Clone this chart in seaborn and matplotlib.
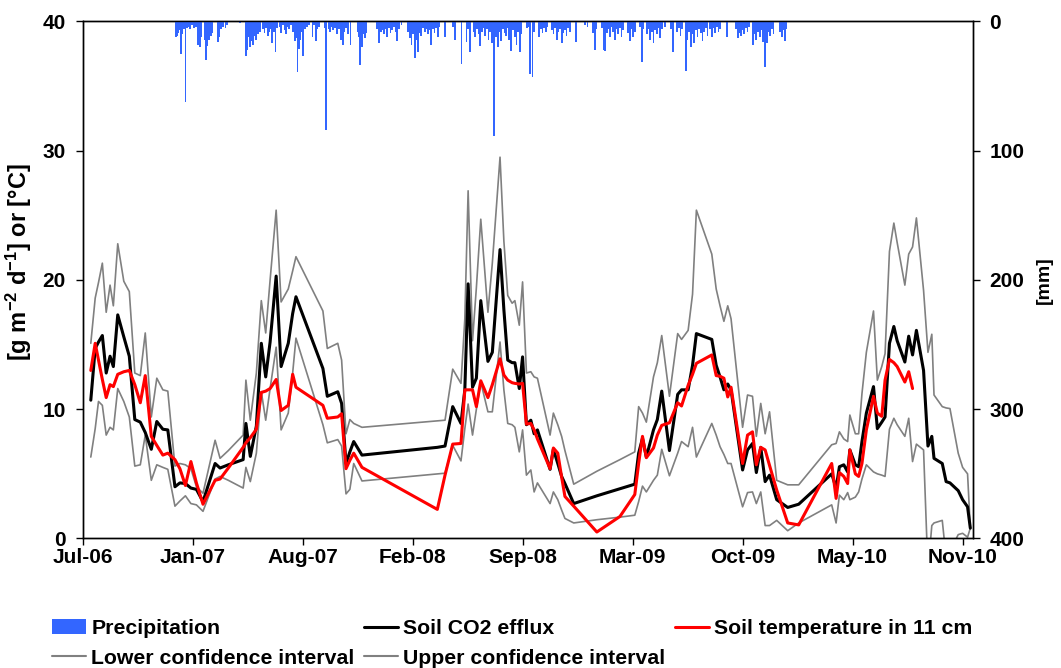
import numpy as np
import pandas as pd
import matplotlib
matplotlib.use("Agg")
import matplotlib.pyplot as plt
import matplotlib.dates as mdates
from matplotlib.patches import Patch
from matplotlib.lines import Line2D
import seaborn as sns

START = pd.Timestamp("2006-07-01")

# Soil campaign, sampling days counted from 1 July 2006
day = [15, 23, 29, 36, 43, 50, 56, 64, 75, 85,
       95, 105, 114, 125, 135, 146, 155, 168, 177, 187,
       197, 207, 219, 241, 250, 265, 292, 297, 305, 316,
       325, 333, 341, 352, 361, 374, 382, 388, 437, 445,
       464, 471, 479, 486, 493, 508, 645, 659, 673, 688,
       695, 701, 709, 716, 724, 737, 745, 759, 766, 773,
       781, 786, 794, 800, 807, 815, 821, 827, 850, 856,
       864, 871, 877, 893, 935, 977, 1004, 1011, 1018, 1025,
       1038, 1045, 1053, 1067, 1082, 1089, 1101, 1109, 1116, 1144,
       1152, 1159, 1166, 1173, 1179, 1200, 1209, 1218, 1225, 1233,
       1241, 1249, 1262, 1282, 1302, 1362, 1370, 1376, 1384, 1391,
       1395, 1405, 1411, 1417, 1425, 1438, 1445, 1453, 1459, 1467,
       1475, 1481, 1495, 1502, 1509, 1516, 1529, 1537, 1544, 1548,
       1563, 1570, 1577, 1592, 1600, 1609, 1614]

# Soil CO2 efflux [g m-2 d-1]
efflux = [10.7, 14.7, 15.2, 15.7, 12.8, 14.1, 13.3, 17.3, 15.6, 14.1,
          9.2, 9.0, 8.2, 6.9, 9.05, 8.45, 8.4, 4.0, 4.3, 4.25,
          3.9, 3.8, 2.85, 5.8, 5.45, 5.7, 6.1, 8.9, 6.35, 8.7,
          15.1, 12.5, 15.2, 20.3, 13.3, 15.1, 17.4, 18.7, 13.15, 11.0,
          11.35, 10.45, 5.8, 6.7, 7.5, 6.45, 7.05, 7.15, 10.2, 8.9,
          11.5, 19.7, 11.7, 12.4, 18.4, 13.7, 14.4, 22.35, 17.7, 13.8,
          13.6, 13.6, 11.6, 14.05, 8.8, 9.15, 8.1, 8.4, 5.35, 6.9,
          5.8, 4.8, 4.25, 2.7, 3.3, 3.85, 4.2, 6.6, 7.75, 6.3,
          8.4, 9.2, 11.4, 6.8, 11.15, 11.5, 11.5, 13.4, 15.85, 15.4,
          13.4, 12.5, 11.5, 11.95, 11.5, 5.3, 6.85, 7.35, 5.1, 7.05,
          4.4, 4.9, 3.0, 2.4, 2.65, 5.0, 3.9, 5.55, 5.7, 5.15,
          6.85, 5.7, 5.55, 7.5, 9.7, 11.75, 8.5, 9.0, 9.4, 15.1,
          16.4, 15.3, 13.65, 15.65, 14.2, 16.1, 13.0, 7.15, 7.9, 6.2,
          5.8, 4.4, 4.3, 3.7, 3.0, 2.45, 0.8]

# Soil temperature in 11 cm [deg C]
temp = [13.0, 15.1, 13.8, 12.3, 10.9, 11.9, 11.75, 12.7, 12.9, 13.0,
        11.9, 10.5, 12.6, 7.9, 7.2, 6.45, 6.6, 6.1, 5.4, 4.1,
        5.95, 4.3, 2.65, 4.5, 4.6, 5.45, 7.05, 7.4, 7.8, 8.45,
        11.3, 11.4, 11.6, 12.3, 9.9, 10.3, 12.7, 11.7, 10.3, 9.3,
        9.4, 9.65, 5.4, 6.05, 6.6, 5.5, 2.25, 4.9, 7.3, 7.35,
        11.5, 11.5, 11.5, 10.2, 12.2, 10.9, 11.9, 13.9, 12.65, 12.25,
        12.05, 12.0, 11.95, 12.0, 8.85, 8.9, 8.4, 7.7, 5.4, 7.0,
        6.6, 4.75, 3.25, 2.5, 0.5, 1.7, 3.4, 5.8, 7.9, 6.25,
        7.0, 8.0, 8.75, 8.95, 10.5, 10.25, 11.85, 12.7, 13.55, 14.2,
        12.6, 12.55, 12.4, 10.95, 11.7, 5.8, 8.0, 8.25, 5.7, 7.05,
        6.85, 5.65, 3.75, 1.2, 1.05, 5.8, 3.1, 5.1, 4.8, 4.25,
        6.85, 5.0, 4.8, 5.8, 8.4, 11.0, 9.7, 9.45, 12.25, 13.85,
        13.6, 13.3, 12.1, 12.9, 11.6, np.nan, np.nan, np.nan, np.nan, np.nan,
        np.nan, np.nan, np.nan, np.nan, np.nan, np.nan, np.nan]

# Confidence interval of the efflux
ci_upper = [15.1, 18.6, 19.8, 21.3, 17.5, 19.6, 18.0, 22.8, 19.9, 19.1,
            12.8, 12.6, 15.9, 9.4, 12.4, 11.5, 11.4, 5.6, 5.8, 5.7,
            5.4, 4.0, 3.5, 7.6, 6.2, 6.8, 8.0, 12.25, 9.15, 12.8,
            18.4, 15.9, 20.0, 25.4, 18.3, 19.3, 20.7, 21.8, 17.6, 14.7,
            15.1, 13.8, 8.1, 9.2, 8.9, 8.6, 9.1, 9.15, 13.1, 12.0,
            17.0, 26.9, 15.3, 19.4, 24.7, 17.5, 21.3, 29.5, 23.0, 18.8,
            18.2, 18.4, 16.5, 19.85, 12.8, 12.9, 12.5, 12.4, 8.0, 9.7,
            8.8, 7.9, 6.8, 4.2, 5.2, 6.1, 6.7, 10.2, 9.7, 9.0,
            12.5, 13.6, 15.7, 11.0, 15.85, 15.4, 16.1, 18.9, 25.4, 22.0,
            19.3, 18.0, 16.8, 18.0, 17.0, 8.6, 11.1, 11.0, 7.9, 10.45,
            8.1, 9.8, 4.5, 4.15, 4.15, 7.25, 7.35, 8.25, 7.7, 7.5,
            9.55, 8.1, 8.1, 11.2, 14.4, 17.6, 12.25, 13.3, 14.3, 22.2,
            24.4, 22.9, 19.6, 22.0, 22.55, 24.8, 19.2, 14.4, 15.8, 11.1,
            10.2, 10.1, 10.05, 6.6, 5.5, 5.0, 0.8]

ci_lower = [6.3, 8.5, 10.6, 10.3, 8.0, 8.6, 8.4, 11.6, 10.6, 9.4,
            5.6, 5.7, 8.0, 4.5, 5.7, 5.5, 5.35, 2.5, 2.9, 3.3,
            2.7, 2.6, 2.1, 4.6, 4.8, 4.5, 3.9, 5.5, 4.4, 6.6,
            11.35, 9.15, 11.6, 14.8, 8.4, 9.7, 12.8, 15.5, 8.8, 7.4,
            7.65, 7.15, 3.45, 3.8, 5.8, 4.45, 5.0, 5.05, 7.2, 6.0,
            8.5, 10.4, 8.0, 10.0, 12.1, 9.8, 9.8, 15.2, 11.5, 8.9,
            8.8, 8.6, 6.7, 8.4, 4.9, 5.3, 3.6, 4.3, 2.7, 3.6,
            3.0, 2.2, 1.55, 1.2, 1.45, 1.65, 1.8, 2.85, 4.05, 3.6,
            4.5, 4.9, 6.9, 4.85, 6.6, 7.5, 7.1, 8.6, 6.3, 8.9,
            8.0, 7.1, 6.5, 5.8, 5.8, 2.45, 3.55, 3.6, 2.7, 3.6,
            1.0, 1.0, 1.4, 0.6, 1.2, 2.6, 1.2, 3.35, 3.0, 3.55,
            3.0, 3.2, 3.6, 4.6, 5.7, 5.15, 5.0, 4.9, 4.8, 8.45,
            9.3, 8.8, 7.9, 9.3, 5.95, 7.3, 6.85, -2.5, 1.0, 1.2,
            1.4, -1.5, -1.0, 0.3, 0.4, 0.1, 0.8]

# Daily precipitation [mm]
rain_day = [170, 172, 174, 177, 179, 181, 184, 187, 190, 193, 196, 199, 203, 206,
            210, 213, 216, 222, 225, 227, 230, 233, 236, 246, 249, 252, 256, 260, 263,
            286, 297, 299, 302, 305, 307, 310, 313, 316, 319, 322,
            328, 331, 334, 337, 340, 343, 345, 348, 351, 353,
            358, 361, 364, 367, 370, 373, 376, 379, 382,
            386, 388, 391, 393, 395, 398, 401, 404, 408, 412, 418, 421, 424, 427, 430,
            440, 443, 447, 450, 453, 456, 459, 462, 465,
            468, 470, 473, 476, 479, 483, 487,
            500, 503, 505, 508, 511, 514, 516,
            536, 539, 542, 545, 548, 551, 554, 557, 560, 563, 566, 569, 572, 575, 580,
            592, 595, 598, 601, 604, 607, 610, 613, 616, 619, 622, 625, 628, 631, 634, 637, 640, 643, 646, 649,
            659, 674, 677, 689, 698, 701, 705,
            711, 714, 717, 720, 723, 726, 729, 732, 735, 738, 741, 744,
            748, 752, 755, 758, 761, 764, 767, 770, 773, 776, 779, 782, 786, 789, 792, 795, 798,
            808, 811, 814, 818, 821, 830, 833, 836, 839, 842, 845,
            853, 856, 859, 862, 865, 868, 871, 874, 877, 880, 883, 886, 897,
            914, 918, 928, 931, 934, 944, 947, 950, 953, 956, 959, 962, 965, 968, 971, 974, 977, 980, 983,
            992, 995, 998, 1001, 1004, 1013, 1017, 1020, 1026, 1029, 1032, 1035, 1038, 1041, 1044, 1047, 1050, 1053, 1059,
            1070, 1073, 1081, 1084, 1087, 1090, 1097, 1100, 1103, 1106, 1109, 1112, 1115, 1118, 1121, 1124, 1127, 1130, 1133, 1136,
            1141, 1144, 1147, 1150, 1153, 1156, 1159, 1172, 1188, 1191, 1194, 1197, 1200, 1203, 1206, 1209, 1212,
            1219, 1222, 1225, 1228, 1231, 1234, 1237, 1239, 1241, 1244, 1247, 1250, 1253, 1256, 1268, 1271, 1274, 1277, 1279]

rain_mm = [12, 11, 9, 7, 25, 10, 6, 62, 5, 4, 6, 3, 5, 4,
           18, 20, 12, 14, 30, 19, 14, 11, 9, 16, 12, 6, 4, 5, 3,
           1, 27, 22, 12, 20, 15, 18, 11, 14, 10, 8,
           6, 9, 5, 11, 8, 6, 17, 8, 24, 5,
           4, 9, 3, 7, 10, 4, 6, 3, 8,
           15, 13, 39, 21, 14, 8, 27, 6, 4, 3, 12, 3, 15, 6, 4,
           5, 84, 6, 8, 4, 7, 5, 10, 6,
           6, 14, 18, 8, 5, 10, 18,
           8, 12, 34, 20, 10, 13, 9,
           6, 17, 8, 7, 10, 6, 12, 5, 9, 7, 4, 8, 15, 6, 3,
           8, 13, 18, 10, 28, 14, 24, 9, 11, 5, 8, 6, 10, 7, 18, 6, 9, 5, 12, 4,
           12, 4, 14, 33, 16, 6, 24,
           8, 12, 6, 10, 19, 8, 5, 11, 6, 14, 8, 17,
           89, 12, 20, 8, 15, 6, 9, 11, 5, 14, 23, 7, 12, 18, 8, 24, 10,
           5, 4, 41, 43, 8, 12, 6, 9, 5, 8, 4,
           7, 10, 5, 14, 8, 6, 17, 9, 7, 11, 5, 8, 16,
           3, 4, 9, 22, 6, 5, 22, 23, 9, 6, 12, 4, 8, 14, 6, 10, 5, 12, 7,
           9, 15, 6, 12, 8, 4, 31, 6, 10, 6, 14, 8, 17, 7, 10, 5, 13, 6, 4,
           6, 24, 8, 5, 11, 6, 38, 14, 8, 20, 10, 17, 7, 12, 6, 9, 15, 8, 5, 11,
           6, 12, 5, 9, 4, 8, 6, 12, 6, 13, 9, 11, 7, 10, 5, 8, 4,
           18, 10, 14, 8, 12, 7, 16, 9, 35, 17, 8, 11, 6, 10, 8, 12, 7, 15, 6]

assert len(day) == len(efflux) == len(temp) == len(ci_upper) == len(ci_lower)
assert len(rain_day) == len(rain_mm)

sns.set_theme(style="ticks")
plt.rcParams.update({
    "font.family": ["Liberation Sans", "DejaVu Sans"],
    "font.weight": "bold",
    "axes.labelweight": "bold",
    "mathtext.fontset": "custom",
    "mathtext.rm": "Liberation Sans:bold",
    "mathtext.it": "Liberation Sans:bold",
    "mathtext.bf": "Liberation Sans:bold",
    "axes.edgecolor": "black",
    "axes.linewidth": 1.0,
    "xtick.color": "black",
    "ytick.color": "black",
    "text.color": "black",
    "axes.labelcolor": "black",
    "xtick.major.size": 5,
    "ytick.major.size": 5,
    "xtick.major.width": 1.0,
    "ytick.major.width": 1.0,
    "xtick.direction": "out",
    "ytick.direction": "out",
})

soil = pd.DataFrame({
    "date": START + pd.to_timedelta(day, unit="D"),
    "efflux": efflux,
    "temp": temp,
    "upper": ci_upper,
    "lower": ci_lower,
})
rain_dates = START + pd.to_timedelta(rain_day, unit="D")

C_RAIN = "#3366FF"
C_CI = "#808080"
C_TEMP = "#FF0000"

fig = plt.figure(figsize=(10.61, 6.68), dpi=100)
ax = fig.add_axes([0.0778, 0.1939, 0.8388, 0.7740])

common = dict(data=soil, x="date", ax=ax, estimator=None, sort=False, legend=False)
sns.lineplot(y="lower", color=C_CI, linewidth=1.2, **common)
sns.lineplot(y="upper", color=C_CI, linewidth=1.2, **common)
sns.lineplot(y="efflux", color="black", linewidth=2.2, **common)
sns.lineplot(y="temp", color=C_TEMP, linewidth=2.2, **common)

ax.set_xlim(START, START + pd.Timedelta(days=1618))
ax.set_xticks(pd.date_range(START, periods=9, freq="200D"))
ax.xaxis.set_major_formatter(mdates.DateFormatter("%b-%y"))
ax.set_ylim(0, 40)
ax.set_yticks([0, 10, 20, 30, 40])
ax.set_xlabel("")
ax.set_ylabel(r"[g m$^{-2}$ d$^{-1}$] or [°C]", fontsize=17, fontweight="bold")
ax.yaxis.set_label_coords(-0.054, 0.534)
ax.tick_params(axis="x", labelsize=15, pad=2)
ax.tick_params(axis="y", labelsize=15, pad=7)

ax2 = ax.twinx()
ax2.bar(rain_dates, rain_mm, width=3.2, color=C_RAIN, linewidth=0, align="center")
ax2.set_ylim(400, 0)
ax2.set_yticks([0, 100, 200, 300, 400])
ax2.set_ylabel("[mm]", fontsize=14, fontweight="bold")
ax2.yaxis.set_label_coords(1.071, 0.5)
ax2.tick_params(axis="y", labelsize=15, pad=7)
ax2.set_xlim(ax.get_xlim())

for a in (ax, ax2):
    for s in a.spines.values():
        s.set_visible(True)
        s.set_color("black")
        s.set_linewidth(1.0)
    a.grid(False)

handles = [
    Patch(facecolor=C_RAIN, edgecolor="none", label="Precipitation"),
    Line2D([], [], color=C_CI, lw=1.5, label="Lower confidence interval"),
    Line2D([], [], color="black", lw=2.2, label="Soil CO2 efflux"),
    Line2D([], [], color=C_CI, lw=1.5, label="Upper confidence interval"),
    Line2D([], [], color=C_TEMP, lw=2.2, label="Soil temperature in 11 cm"),
]
fig.legend(handles=handles, ncol=3, loc="upper left",
           bbox_to_anchor=(52 / 1061, 1 - 619 / 668),
           frameon=False, handlelength=1.6, handletextpad=0.25,
           columnspacing=0.45, labelspacing=0.5, borderpad=0, borderaxespad=0,
           prop={"weight": "bold", "size": 15.3})

fig.savefig("out.png", dpi=100, facecolor="white")
